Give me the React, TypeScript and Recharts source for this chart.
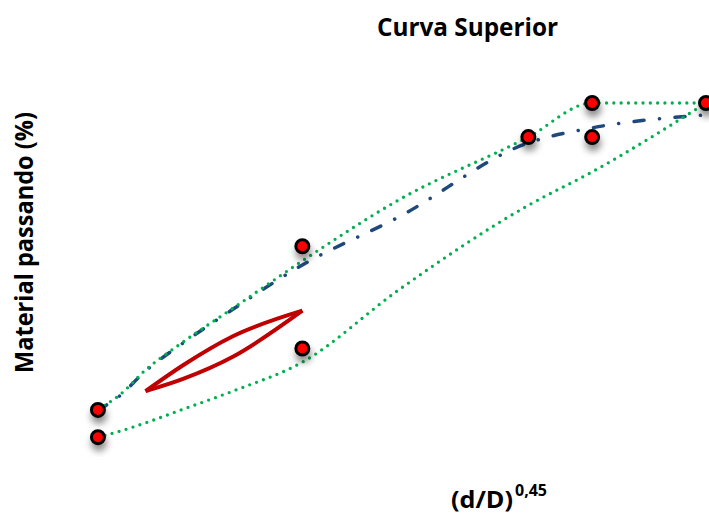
import { ComposedChart, Line, Scatter, XAxis, YAxis } from 'recharts'

// peneiras (mm) e diâmetro máximo
const sieves = [0.075, 0.15, 0.3, 0.6, 1.18, 2.36, 4.75, 9.5, 12.5, 19]
const maxSize = 19

// faixa granulométrica (limites) e curva da mistura, % passando
const upperBand = [10.3, 14.0, 21.7, 29.9, 39.8, 53.7, 71.5, 90, 100, 100]
const lowerBand = [2, 3.6, 6.2, 10.2, 15.5, 24.0, 45.1, 70.0, 79.8, 100]
const mixCurve = [10, 13.7, 21.4, 29.6, 39.5, 52.5, 66.5, 88.3, 92.7, 96.5]

// pontos de controle
const controlSieves = [0.075, 0.075, 2.36, 2.36, 9.5, 12.5, 12.5, 19]
const controlValues = [2, 10, 28, 58, 90, 90, 100, 100]

// zona de restrição
const zoneSieves = [0.3, 0.6, 1.18, 2.36]
const zoneUpper = [15.5, 23.1, 31.6, 39.1]
const zoneLower = [15.5, 19.1, 25.6, 39.1]

const toX = (d: number) => Math.pow(d / maxSize, 0.45)
const pairs = (ds: number[], vs: number[]) => ds.map((d, i) => ({ x: toX(d), y: vs[i] }))

const upperData = pairs(sieves, upperBand)
const lowerData = pairs(sieves, lowerBand)
const mixData = pairs(sieves, mixCurve)
const controlData = pairs(controlSieves, controlValues)
const zoneUpperData = pairs(zoneSieves, zoneUpper)
const zoneLowerData = pairs(zoneSieves, zoneLower)

const GREEN = '#00B050'
const BLUE = '#1F497D'
const DARK_RED = '#C00000'
const FONT = '"Open Sans", sans-serif'

const renderPoint = (props: any) => (
  <circle
    cx={props.cx}
    cy={props.cy}
    r={6.5}
    fill="#FF0000"
    stroke="#000"
    strokeWidth={3}
    filter="url(#ptShadow)"
  />
)

const dotted = {
  stroke: GREEN,
  strokeWidth: 3.3,
  strokeDasharray: '0 7.3',
  strokeLinecap: 'round' as const,
}

export default function App() {
  return (
    <div style={{ position: 'absolute', left: 0, top: 0, width: 709, height: 516, background: '#fff' }}>
      <ComposedChart width={709} height={516} margin={{ top: 103, right: 3, bottom: 72, left: 43 }}>
        <defs>
          <filter id="ptShadow" x="-100%" y="-100%" width="300%" height="300%">
            <feDropShadow dx={1} dy={6} stdDeviation={3.5} floodColor="#000" floodOpacity={0.45} />
          </filter>
        </defs>
        <XAxis type="number" dataKey="x" domain={[0, 1]} hide />
        <YAxis type="number" dataKey="y" domain={[0, 100]} hide />
        <Line
          data={mixData}
          dataKey="y"
          type="monotone"
          stroke={BLUE}
          strokeWidth={3.5}
          strokeDasharray="10 15.5 0.1 15.5"
          strokeLinecap="round"
          dot={false}
          activeDot={false}
          isAnimationActive={false}
        />
        <Line data={upperData} dataKey="y" type="monotone" {...dotted} dot={false} activeDot={false} isAnimationActive={false} />
        <Line data={lowerData} dataKey="y" type="monotone" {...dotted} dot={false} activeDot={false} isAnimationActive={false} />
        <Line
          data={zoneUpperData}
          dataKey="y"
          type="monotone"
          stroke={DARK_RED}
          strokeWidth={4}
          dot={false}
          activeDot={false}
          isAnimationActive={false}
        />
        <Line
          data={zoneLowerData}
          dataKey="y"
          type="monotone"
          stroke={DARK_RED}
          strokeWidth={4}
          dot={false}
          activeDot={false}
          isAnimationActive={false}
        />
        <Scatter data={controlData} shape={renderPoint} isAnimationActive={false} />
      </ComposedChart>
      <svg width={709} height={516} style={{ position: 'absolute', left: 0, top: 0, pointerEvents: 'none' }}>
        <text
          x={377}
          y={36}
          fontFamily={FONT}
          fontWeight="bold"
          fontSize={25}
          textLength={181}
          lengthAdjust="spacingAndGlyphs"
          fill="#000"
        >
          Curva Superior
        </text>
        <text
          transform="rotate(-90)"
          x={-373}
          y={33}
          fontFamily={FONT}
          fontWeight="bold"
          fontSize={25}
          textLength={261}
          lengthAdjust="spacingAndGlyphs"
          fill="#000"
        >
          Material passando (%)
        </text>
        <text
          x={451}
          y={508}
          fontFamily={FONT}
          fontWeight="bold"
          fontSize={24}
          textLength={62}
          lengthAdjust="spacingAndGlyphs"
          fill="#000"
        >
          (d/D)
        </text>
        <text x={515} y={496} fontFamily={FONT} fontWeight="bold" fontSize={16} fill="#000">
          0,45
        </text>
      </svg>
    </div>
  )
}
